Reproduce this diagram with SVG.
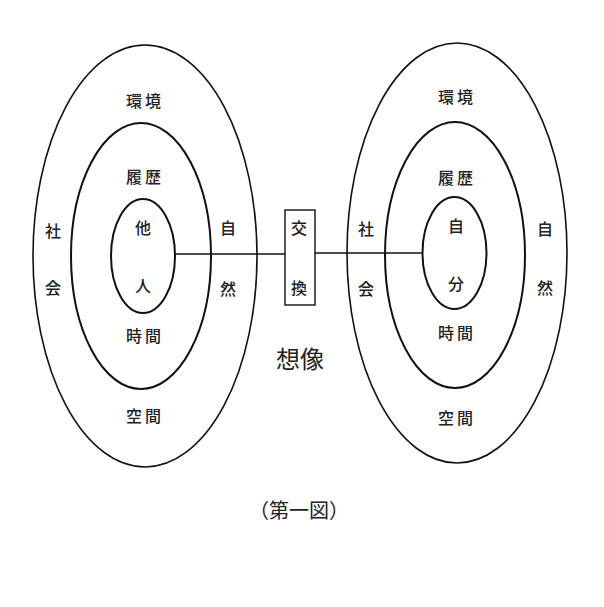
<svg xmlns="http://www.w3.org/2000/svg" width="604" height="607" viewBox="0 0 604 607">
<style>
.e{fill:none;stroke:#111;stroke-width:1.6}
.m{fill:none;stroke:#111;stroke-width:2}
.t{font-family:"Noto Sans CJK JP","Noto Sans CJK SC",sans-serif;font-size:16px;font-weight:500;fill:#222;text-anchor:middle;dominant-baseline:central}
.w{letter-spacing:3px}
.c{stroke:#111;stroke-width:1.6;fill:none}
</style>
<rect width="604" height="607" fill="#fff"/>
<g id="connectors">
<line class="c" x1="175" y1="254" x2="285" y2="254"/>
<line class="c" x1="315" y1="253" x2="422" y2="253"/>
</g>
<g id="left">
<ellipse class="e" cx="145" cy="256" rx="112" ry="211"/>
<ellipse class="m" cx="141" cy="256" rx="70" ry="133"/>
<ellipse class="m" cx="143" cy="256" rx="32" ry="57"/>
<text class="t w" x="145" y="100">環境</text>
<text class="t w" x="145" y="176">履歴</text>
<text class="t" x="143" y="227">他</text>
<text class="t" x="143" y="285">人</text>
<text class="t w" x="145" y="335">時間</text>
<text class="t w" x="145" y="415">空間</text>
<text class="t" x="53" y="230">社</text>
<text class="t" x="53" y="287">会</text>
<text class="t" x="228" y="227">自</text>
<text class="t" x="228" y="288">然</text>
</g>
<g id="exchange">
<rect x="285" y="210" width="30" height="95" fill="#fff" stroke="#111" stroke-width="1.4"/>
<text class="t" x="299" y="227">交</text>
<text class="t" x="299" y="287">換</text>
</g>
<g id="right">
<ellipse class="e" cx="457" cy="253" rx="110" ry="210"/>
<ellipse class="m" cx="455" cy="255" rx="70" ry="133"/>
<ellipse class="m" cx="454.5" cy="253" rx="32" ry="56"/>
<text class="t w" x="457" y="96">環境</text>
<text class="t w" x="457" y="177">履歴</text>
<text class="t" x="456" y="225">自</text>
<text class="t" x="456" y="283">分</text>
<text class="t w" x="457" y="332">時間</text>
<text class="t w" x="457" y="417">空間</text>
<text class="t" x="366" y="228">社</text>
<text class="t" x="366" y="288">会</text>
<text class="t" x="545" y="228">自</text>
<text class="t" x="545" y="287">然</text>
</g>
<g id="imagination">
<text class="t" x="300" y="357" style="font-size:24px;font-weight:400">想像</text>
</g>
<g id="caption">
<text x="299" y="509" style="font-family:'Noto Sans CJK JP',sans-serif;font-size:20px;fill:#222;text-anchor:middle;dominant-baseline:central">（第一図）</text>
</g>
</svg>
